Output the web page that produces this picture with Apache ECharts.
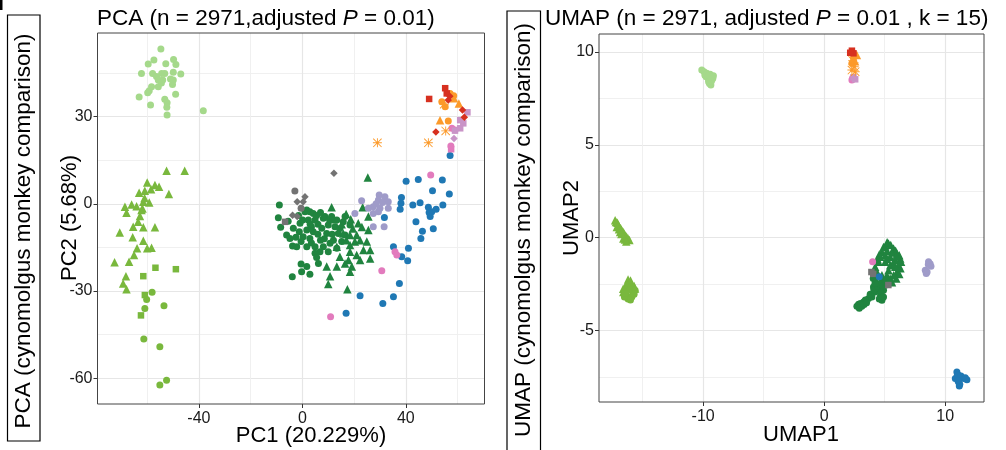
<!DOCTYPE html>
<html><head><meta charset="utf-8">
<script src="https://cdn.jsdelivr.net/npm/echarts@6/dist/echarts.min.js"></script>
<style>html,body{margin:0;padding:0;background:#fff}#c{width:1006px;height:450px}</style>
</head><body><div id="c"></div>
<script>
// ---------------- PCA data ----------------
const pcaLightGreenCircle = [[-54.7,53.3],[-59.6,48.1],[-57.4,49.5],[-52.8,48.2],[-49.8,49.7],[-48.9,48.0],[-62.2,44.9],[-57.9,44.9],[-56.4,43.8],[-54.4,44.9],[-53.2,44.9],[-49.9,45.3],[-47.0,44.7],[-55.7,42.6],[-54.0,42.6],[-49.9,42.6],[-50.2,41.1],[-58.3,40.3],[-59.2,38.9],[-55.7,40.3],[-59.8,38.2],[-63.1,36.8],[-49.0,37.7],[-53.2,36.0],[-52.3,34.8],[-58.7,34.0],[-52.4,33.2],[-52.3,30.6],[-38.3,32.0],[-51.0,43.0],[-54.5,41.6]];
const pcaMidGreenTriangle = [[-52.5,11.4],[-45.5,11.4],[-60.0,7.3],[-57.0,6.5],[-55.4,5.9],[-63.1,3.8],[-60.9,4.5],[-51.6,3.4],[-61.5,0.7],[-59.2,0.5],[-68.6,-1.0],[-66.0,-0.2],[-64.1,-0.8],[-68.0,-3.1],[-61.8,-1.6],[-62.8,-4.2],[-63.5,-6.2],[-65.4,-7.9],[-61.5,-8.1],[-57.0,-8.1],[-70.6,-9.9],[-65.6,-11.5],[-61.5,-12.7],[-60.0,-15.3],[-58.3,-15.1],[-63.9,-15.3],[-65.1,-17.6],[-72.6,-20.1],[-67.0,-19.9],[-68.2,-24.9],[-69.3,-27.4],[-68.0,-29.4],[-58.5,5.0],[-62.2,-2.1],[-61.0,2.0]];
const pcaMidGreenSquare = [[-56.8,-22.0],[-48.9,-22.5],[-61.5,-24.9],[-60.9,-31.4],[-62.4,-38.4]];
const pcaMidGreenCircle = [[-58.1,-30.4],[-60.2,-32.9],[-60.9,-36.0],[-53.5,-35.1],[-61.3,-46.5],[-55.1,-49.2],[-52.5,-60.7],[-55.1,-62.4]];
const pcaDarkGreenCircle = [[-8.9,-0.4],[-9.3,-4.8],[-8.4,-8.1],[-6.1,-10.7],[-3.8,-14.5],[-3.9,-25.1],[-0.3,-23.4],[2.9,-24.2],[-0.5,-20.7],[1.7,-21.6],[6.2,-20.5],[-0.9,-6.7],[1.0,-2.7],[2.9,-2.7],[4.2,-3.3],[0.1,-5.6],[2.3,-5.6],[4.9,-5.6],[7.5,-8.4],[1.7,-9.0],[4.2,-9.6],[0.3,-11.3],[2.9,-11.9],[1.7,-14.8],[4.9,-14.8],[8.1,-14.8],[10.7,-13.6],[9.4,-10.2],[8.1,-5.0],[10.0,-7.3],[12.6,-7.9],[13.9,-10.2],[16.5,-10.7],[15.2,-13.0],[13.3,-15.3],[10.0,-16.5],[6.8,-16.5],[-2.2,-14.8],[-4.8,-11.9],[-3.5,-8.4],[-1.2,-9.6],[13.3,-5.6],[15.8,-6.2],[11.3,-4.4],[8.7,-4.4],[16.5,-4.4],[18.4,-7.3],[4.9,-17.0],[1.7,-2.1],[6.0,-7.0],[-1.5,-4.0],[3.5,-8.0],[5.5,-4.0],[7.0,-3.0],[3.0,-7.0],[6.0,-10.5],[8.5,-12.0],[11.5,-10.5],[-0.5,-13.0],[3.5,-13.5],[12.0,-12.5],[10.5,-5.5],[14.5,-8.5],[-5.5,-6.0],[-2.5,-11.5],[7.0,-12.5],[5.5,-18.5]];
const pcaDarkGreenTriangle = [[25.3,9.1],[11.3,-1.2],[16.9,-3.5],[12.2,-5.3],[15.2,-7.0],[18.7,-5.3],[21.6,-6.7],[25.5,-4.4],[23.3,-1.2],[25.5,-9.0],[15.8,-10.2],[18.4,-10.7],[21.0,-10.7],[20.3,-13.0],[22.3,-12.5],[24.9,-13.0],[18.4,-14.2],[13.3,-14.8],[26.2,-15.9],[23.6,-15.9],[21.0,-17.6],[18.4,-16.5],[14.5,-18.2],[22.3,-19.3],[17.8,-19.3],[13.3,-21.6],[19.1,-21.6],[26.2,-18.8],[9.4,-21.6],[16.5,-20.5],[10.7,-24.9],[18.4,-23.4],[10.0,-27.6],[17.4,-29.4],[19.5,-8.5],[23.0,-8.0],[17.0,-12.5]];
const pcaGreyDiamond = [[12.2,10.5],[1.0,2.4],[-2.0,0.7],[0.3,0.7],[-3.8,-3.9],[-2.0,-4.4]];
const pcaGreyCircle = [[-2.9,4.4],[-0.5,-1.5]];
const pcaGreySquare = [[-6.7,-6.2]];
const pcaLavenderCircle = [[22.9,1.1],[20.3,-3.3],[29.7,3.0],[31.9,2.4],[33.2,0.7],[29.4,1.3],[27.4,-1.0],[25.5,-1.5],[30.0,-1.5],[33.2,-1.5],[27.4,-3.3],[29.4,-2.7],[27.4,-7.9],[31.6,-7.9],[28.5,0.0],[31.0,0.5]];
const pcaBlueCircle = [[40.1,7.8],[44.8,8.4],[54.1,8.2],[50.3,4.5],[56.8,3.4],[38.3,2.2],[38.1,0.2],[42.7,-0.4],[45.5,0.4],[48.7,-1.2],[50.0,-2.7],[51.7,-1.9],[54.3,-0.4],[49.4,-4.4],[37.8,-1.9],[31.7,-4.7],[43.9,-6.2],[46.4,-9.4],[50.6,-8.6],[45.8,-11.9],[35.2,-14.8],[41.0,-15.3],[38.4,-18.2],[40.7,-19.6],[37.5,-27.4],[22.3,-31.6],[31.1,-34.3],[35.2,-32.0],[16.9,-37.7],[57.1,16.6],[49.0,-3.0]];
const pcaPinkCircle = [[49.6,9.9],[35.8,-16.5],[36.5,-17.6],[30.7,-23.0],[10.9,-38.9],[59.0,25.4],[57.4,19.9],[57.8,26.0]];
const pcaPinkSquare = [[57.5,18.8]];
const pcaPlumSquare = [[63.8,31.5],[62.2,27.7],[61.0,26.0],[59.0,25.2],[61.0,28.8]];
const pcaPlumDiamond = [[58.6,22.5]];
const pcaOrangeCircle = [[57.1,38.0],[55.2,33.4],[56.4,28.5],[53.9,35.1],[58.5,37.2]];
const pcaOrangeTriangle = [[53.2,28.8],[58.6,36.3],[60.5,34.5]];
const pcaOrangeStar = [[55.4,25.1],[48.7,21.0],[29.0,21.0],[54.8,34.3]];
const pcaRedSquare = [[49.0,36.1],[55.2,39.8],[55.8,38.0]];
const pcaRedDiamond = [[56.4,35.7],[61.9,32.3],[62.6,29.8],[51.6,24.7],[57.0,37.0]];

// ---------------- UMAP data ----------------
const umapLightGreenCircle = [[-10.11,9.03],[-9.92,8.94],[-9.70,8.85],[-9.42,8.80],[-9.15,8.72],[-9.20,8.58],[-9.56,8.53],[-9.48,8.31],[-9.36,8.22],[-9.75,8.67],[-9.85,8.75],[-9.6,8.7],[-9.3,8.45],[-9.55,8.4],[-9.4,8.65]];
const umapMidGreenTriangle = [[-17.27,0.94],[-17.08,0.80],[-16.91,0.58],[-16.72,0.40],[-16.53,0.23],[-16.31,0.04],[-16.09,-0.13],[-16.59,-0.04],[-16.86,0.31],[-17.13,0.58],[-17.2,0.85],[-17.0,0.7],[-16.8,0.5],[-16.6,0.3],[-16.4,0.12],[-16.2,-0.05],[-16.75,0.2],[-16.95,0.45],[-16.45,-0.1],[-16.35,-0.2],[-16.17,-2.38],[-15.89,-2.56],[-16.45,-2.65],[-15.62,-2.74],[-16.59,-2.92],[-16.2,-2.25],[-16.0,-2.3],[-16.3,-2.5],[-15.7,-2.6],[-16.6,-2.75],[-16.1,-2.7],[-15.8,-2.9]];
const umapMidGreenCircle = [[-16.31,-3.1],[-15.89,-3.19],[-16.03,-2.8],[-15.62,-2.83],[-16.2,-3.3],[-16.0,-3.35],[-16.5,-3.2],[-15.7,-3.05]];
const umapMidGreenSquare = [[-16.45,-3.0]];
const umapDarkGreenCircle = [[2.84,-3.58],[3.25,-3.46],[3.66,-3.28],[3.94,-3.19],[3.11,-3.69],[2.70,-3.69],[4.21,-2.92],[4.49,-2.74],[4.63,-3.19],[4.77,-3.37],[4.07,-2.65],[4.35,-2.47],[4.77,-2.38],[5.04,-2.56],[4.9,-2.83],[5.18,-2.29],[3.0,-3.55],[3.4,-3.35],[3.8,-3.05],[4.1,-2.8],[4.4,-2.6],[4.6,-2.5],[4.85,-2.6],[5.1,-2.4],[5.3,-2.5],[4.7,-3.0],[4.55,-3.3],[4.9,-3.2],[2.9,-3.8],[3.3,-3.6],[3.5,-3.5],[4.2,-2.45],[4.05,-2.2],[4.25,-2.15]];
const umapDarkGreenTriangle = [[5.04,-0.49],[5.31,-0.31],[5.73,-0.58],[6.01,-0.85],[6.28,-1.12],[4.77,-0.76],[4.63,-1.03],[5.04,-0.94],[5.45,-1.03],[5.87,-1.21],[6.14,-1.48],[6.01,-1.84],[5.73,-2.02],[5.45,-2.2],[5.87,-1.57],[5.45,-1.48],[5.31,-1.75],[5.04,-1.3],[4.49,-1.3],[4.21,-1.57],[4.35,-1.84],[4.77,-2.02],[5.18,-2.02],[5.2,-0.25],[5.5,-0.4],[5.9,-0.7],[6.2,-0.95],[6.35,-1.3],[6.3,-1.65],[6.2,-1.95],[5.95,-2.2],[5.6,-2.4],[4.9,-0.5],[4.55,-0.9],[4.4,-1.15],[5.2,-0.7],[5.6,-0.8],[5.7,-1.35],[5.95,-1.0],[5.2,-1.15]];
const umapGreySquare = [[3.9,-1.85],[4.05,-1.95],[5.3,-2.55]];
const umapPinkCircle = [[4.0,-1.3],[2.29,8.49],[2.35,8.6]];
const umapBlueCircle = [[4.55,-2.1],[10.96,-7.23],[11.1,-7.41],[10.83,-7.59],[11.1,-7.77],[11.16,-7.99],[11.51,-7.59],[11.79,-7.65],[11.24,-7.5],[11.0,-7.4],[11.2,-7.9],[11.3,-7.45],[11.05,-7.7],[11.65,-7.55]];
const umapLavenderCircle = [[8.62,-1.3],[8.82,-1.54],[8.35,-1.75],[8.43,-1.93],[8.6,-1.45],[8.75,-1.4],[8.5,-1.85]];
const umapPlumSquare = [[2.56,8.53],[2.42,8.64]];
const umapOrangeCircle = [[2.42,9.66],[2.29,9.39]];
const umapOrangeTriangle = [[2.7,9.84],[2.55,9.5]];
const umapOrangeStar = [[2.48,9.21],[2.29,9.03],[2.56,8.94],[2.35,9.55]];
const umapRedSquare = [[2.29,10.07],[2.42,9.93],[2.15,9.96]];

// ticks
const pcaXMajor = [-40, 0, 40], pcaXMinor = [-60, -20, 20, 60];
const pcaYMajor = [-60, -30, 0, 30], pcaYMinor = [-45, -15, 15, 45];
const umapXMajor = [-10, 0, 10], umapXMinor = [-15, -5, 5];
const umapYMajor = [-5, 0, 5, 10], umapYMinor = [-7.5, -2.5, 2.5, 7.5];

// ---------------- styling ----------------
const FONT = 'Liberation Sans, Arial, sans-serif';
const COL = {lg:'#a5d98b', mg:'#79b83d', dg:'#20843f', grey:'#737373', lav:'#9f9bc9', blue:'#1f78b4', pink:'#e27bbd', plum:'#c994c7', orange:'#fc9a2a', red:'#d7301f'};
const STAR = 'path://M0 9H20V11H0Z M9 0H11V20H9Z M1.4 0L20 18.6L18.6 20L0 1.4Z M18.6 0L20 1.4L1.4 20L0 18.6Z';
const SYM = {circle:['circle',7], triangle:['triangle',8.5], square:['rect',6.5], diamond:['diamond',7.5], star:[STAR,9]};

const layers = [
  [0, pcaLightGreenCircle, 'lg', 'circle'],
  [0, pcaMidGreenTriangle, 'mg', 'triangle'],
  [0, pcaMidGreenSquare, 'mg', 'square'],
  [0, pcaMidGreenCircle, 'mg', 'circle'],
  [0, pcaDarkGreenCircle, 'dg', 'circle'],
  [0, pcaDarkGreenTriangle, 'dg', 'triangle'],
  [0, pcaGreyDiamond, 'grey', 'diamond'],
  [0, pcaGreyCircle, 'grey', 'circle'],
  [0, pcaGreySquare, 'grey', 'square'],
  [0, pcaLavenderCircle, 'lav', 'circle'],
  [0, pcaBlueCircle, 'blue', 'circle'],
  [0, pcaPinkCircle, 'pink', 'circle'],
  [0, pcaPinkSquare, 'pink', 'square'],
  [0, pcaPlumSquare, 'plum', 'square'],
  [0, pcaPlumDiamond, 'plum', 'diamond'],
  [0, pcaOrangeCircle, 'orange', 'circle'],
  [0, pcaOrangeTriangle, 'orange', 'triangle'],
  [0, pcaOrangeStar, 'orange', 'star'],
  [0, pcaRedSquare, 'red', 'square'],
  [0, pcaRedDiamond, 'red', 'diamond'],
  [1, umapLightGreenCircle, 'lg', 'circle'],
  [1, umapMidGreenTriangle, 'mg', 'triangle'],
  [1, umapMidGreenCircle, 'mg', 'circle'],
  [1, umapMidGreenSquare, 'mg', 'square'],
  [1, umapDarkGreenCircle, 'dg', 'circle'],
  [1, umapDarkGreenTriangle, 'dg', 'triangle'],
  [1, umapGreySquare, 'grey', 'square'],
  [1, umapPinkCircle, 'pink', 'circle'],
  [1, umapBlueCircle, 'blue', 'circle'],
  [1, umapLavenderCircle, 'lav', 'circle'],
  [1, umapPlumSquare, 'plum', 'square'],
  [1, umapOrangeCircle, 'orange', 'circle'],
  [1, umapOrangeTriangle, 'orange', 'triangle'],
  [1, umapOrangeStar, 'orange', 'star'],
  [1, umapRedSquare, 'red', 'square']
];

function axes(dim, gridIndex, min, max, major, minor) {
  const pos = dim === 'x' ? 'bottom' : 'left';
  const majorAxis = {
    type:'value', gridIndex, position:pos, min, max,
    axisLine:{show:false, onZero:false},
    axisTick:{show:true, length:4, lineStyle:{color:'#333', width:1}, customValues:major},
    axisLabel:{customValues:major, fontSize:16, color:'#1a1a1a', fontFamily:FONT, margin: dim==='x' ? 7 : 5},
    splitLine:{show:true, lineStyle:{color:'#e6e6e6', width:1.2}}
  };
  const minorAxis = {
    type:'value', gridIndex, position:pos, min, max,
    axisLine:{show:false, onZero:false},
    axisTick:{show:false, customValues:minor},
    axisLabel:{show:false},
    splitLine:{show:true, lineStyle:{color:'#eeeeee', width:0.9}}
  };
  return [majorAxis, minorAxis];
}

const xAxis = [...axes('x',0,-79.2,70.4,pcaXMajor,pcaXMinor), ...axes('x',1,-18.6,13.2,umapXMajor,umapXMinor)];
const yAxis = [...axes('y',0,-68.9,58.8,pcaYMajor,pcaYMinor), ...axes('y',1,-8.85,10.97,umapYMajor,umapYMinor)];

const series = layers.map(([g, data, c, s]) => ({
  type:'scatter', xAxisIndex: g*2, yAxisIndex: g*2, data,
  symbol: SYM[s][0], symbolSize: SYM[s][1],
  itemStyle:{color: COL[c], opacity:1},
  silent:true, z:3
}));

function txt(x, y, text, opts) {
  return Object.assign({type:'text', x, y, z:10, style:Object.assign({text, fill:'#000', font:'22px '+FONT, align:'center', verticalAlign:'middle'}, opts && opts.style)}, opts && opts.el);
}
const rich = {n:{fontSize:22.5, fontFamily:FONT, fill:'#000'}, i:{fontSize:22.5, fontFamily:FONT, fontStyle:'italic', fill:'#000'}};

const graphic = [
  {type:'rect', shape:{x:0,y:0,width:2.5,height:10}, style:{fill:'#000'}},
  {type:'rect', shape:{x:7.5,y:15,width:32.5,height:426}, style:{fill:'none', stroke:'#000', lineWidth:1.2}},
  {type:'rect', shape:{x:507,y:11,width:33.5,height:445}, style:{fill:'none', stroke:'#000', lineWidth:1.2}},
  txt(24, 231, 'PCA (cynomolgus monkey comparison)', {el:{rotation:Math.PI/2}, style:{font:'22.5px '+FONT}}),
  txt(524, 230, 'UMAP (cynomolgus monkey comparison)', {el:{rotation:Math.PI/2}, style:{font:'22.5px '+FONT}}),
  {type:'text', x:97, y:19, z:10, style:{text:'{n|PCA (n = 2971,adjusted }{i|P}{n| = 0.01)}', rich, align:'left', verticalAlign:'middle'}},
  {type:'text', x:545, y:19, z:10, style:{text:'{n|UMAP (n = 2971, adjusted }{i|P}{n| = 0.01 , k = 15)}', rich, align:'left', verticalAlign:'middle'}},
  txt(311, 436, 'PC1 (20.229%)'),
  txt(801, 435, 'UMAP1'),
  txt(70, 218, 'PC2 (5.68%)', {el:{rotation:Math.PI/2}}),
  txt(572, 218, 'UMAP2', {el:{rotation:Math.PI/2}})
];

const chart = echarts.init(document.getElementById('c'), null, {renderer:'canvas'});
chart.setOption({
  animation:false,
  backgroundColor:'#fff',
  grid:[
    {left:97.5, top:33, width:387, height:371, show:true, borderColor:'#444', borderWidth:1, backgroundColor:'transparent', z:4},
    {left:599, top:34, width:385, height:368, show:true, borderColor:'#444', borderWidth:1, backgroundColor:'transparent', z:4}
  ],
  xAxis, yAxis, series, graphic
});
</script></body></html>
